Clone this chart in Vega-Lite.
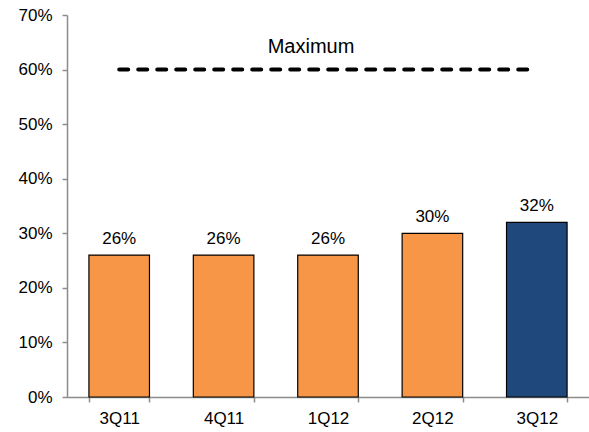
{
  "$schema": "https://vega.github.io/schema/vega-lite/v6.json",
  "autosize": {"type": "none"},
  "width": 522,
  "height": 382,
  "padding": {"left": 67, "top": 15, "right": 0, "bottom": 35},
  "background": "white",
  "config": {
    "view": {"stroke": null},
    "font": "Liberation Sans",
    "axis": {
      "labelFont": "Liberation Sans",
      "labelFontSize": 17,
      "labelColor": "#000000",
      "domainColor": "#8c8c8c",
      "tickColor": "#8c8c8c",
      "domainWidth": 1.5,
      "tickWidth": 1.5,
      "grid": false,
      "title": null
    }
  },
  "data": {
    "values": [
      {"q": "3Q11", "v": 0.26, "type": "prior", "max": 0.6, "note": ""},
      {"q": "4Q11", "v": 0.26, "type": "prior", "max": 0.6, "note": ""},
      {"q": "1Q12", "v": 0.26, "type": "prior", "max": 0.6, "note": "Maximum"},
      {"q": "2Q12", "v": 0.30, "type": "prior", "max": 0.6, "note": ""},
      {"q": "3Q12", "v": 0.32, "type": "current", "max": 0.6, "note": ""}
    ]
  },
  "encoding": {
    "x": {
      "field": "q",
      "type": "nominal",
      "sort": null,
      "scale": {"paddingInner": 0.42, "paddingOuter": 0.21},
      "axis": {"labelAngle": 0, "tickBand": "extent", "tickSize": 5, "labelPadding": 8}
    }
  },
  "layer": [
    {
      "mark": {"type": "bar", "stroke": "#000000", "strokeWidth": 1.2},
      "encoding": {
        "y": {
          "field": "v",
          "type": "quantitative",
          "scale": {"domain": [0, 0.7], "nice": false},
          "axis": {"format": ".0%", "values": [0, 0.1, 0.2, 0.3, 0.4, 0.5, 0.6, 0.7], "tickSize": 5, "labelPadding": 10}
        },
        "color": {
          "field": "type",
          "type": "nominal",
          "scale": {"domain": ["prior", "current"], "range": ["#F79646", "#1F497D"]},
          "legend": null
        }
      }
    },
    {
      "mark": {"type": "text", "fontSize": 17, "dy": -11, "baseline": "alphabetic", "color": "#000000"},
      "encoding": {
        "y": {"field": "v", "type": "quantitative"},
        "text": {"field": "v", "type": "quantitative", "format": ".0%"}
      }
    },
    {
      "mark": {"type": "line", "color": "#000000", "strokeWidth": 4, "strokeDash": [9, 10], "strokeCap": "round"},
      "encoding": {
        "y": {"field": "max", "type": "quantitative"}
      }
    },
    {
      "mark": {"type": "text", "fontSize": 20, "dy": -17, "xOffset": -17, "baseline": "alphabetic", "color": "#000000"},
      "encoding": {
        "y": {"field": "max", "type": "quantitative"},
        "text": {"field": "note", "type": "nominal"}
      }
    }
  ]
}
